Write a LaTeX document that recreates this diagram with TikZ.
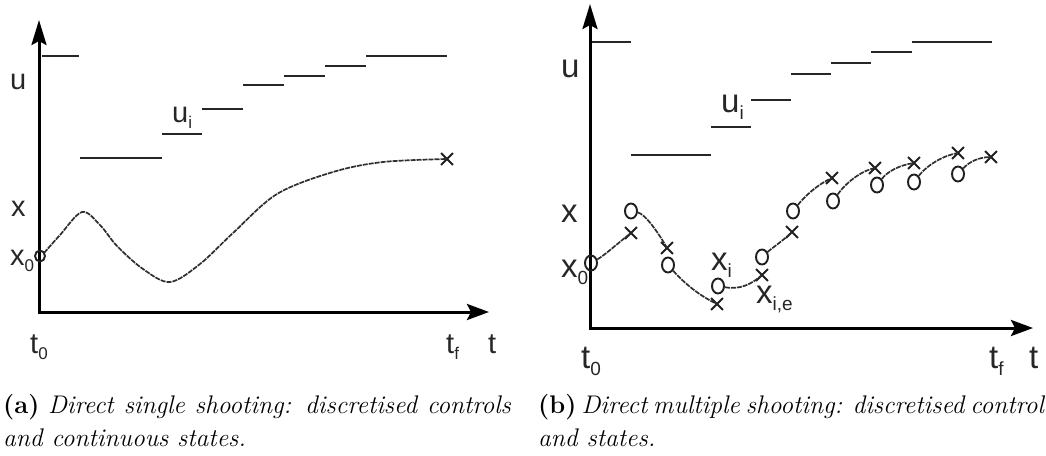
\documentclass[tikz,border=0pt]{standalone}
\usepackage{fontspec}
\usetikzlibrary{arrows.meta,shapes.misc,shapes.geometric}
\newfontfamily\lsans{Liberation Sans}
\newcommand\lblL{\lsans\fontsize{29}{29}\selectfont}
\newcommand\lblR{\lsans\fontsize{33}{33}\selectfont}
\newcommand\sbL[1]{\raisebox{-0.45ex}{\fontsize{17}{17}\selectfont #1}}
\newcommand\sbR[1]{\raisebox{-0.45ex}{\fontsize{19}{19}\selectfont #1}}
\begin{document}
\begin{tikzpicture}[x=1pt,y=-1pt,
  axis/.style={line width=3pt,{Stealth[length=25pt,width=15pt,inset=4pt]}-{Stealth[length=22pt,width=16pt,inset=4pt]}},
  ctrl/.style={line width=2.4pt,draw=black!85},
  state/.style={line width=1.7pt,draw=black!82,dash pattern=on 5pt off 1pt},
  circ/.style={draw=black!88,ellipse,line width=1.9pt,minimum width=12pt,minimum height=15pt,inner sep=0pt},
  crs/.style={draw=black!88,cross out,line width=1.8pt,minimum size=10pt,inner sep=0pt},
  lblL/.style={font=\lblL,inner sep=0pt,anchor=base west,text=black!85},
  lblR/.style={font=\lblR,inner sep=0pt,anchor=base west,text=black!85},
  captext/.style={font=\fontsize{25.5}{33}\selectfont,inner sep=0pt,anchor=north west,align=left}]
\useasboundingbox (0,0) rectangle (1046,455);

% ================= (a) =================
\coordinate (Y1) at (39,20);
\coordinate (O1) at (39,312);
\coordinate (X1) at (489,312);
\draw[axis] (Y1) -- (O1) -- (X1);

\draw[ctrl] (42,56) -- (79,56);
\draw[ctrl] (80,158) -- (162,158);
\draw[ctrl] (162,134) -- (202,134);
\draw[ctrl] (202,109) -- (243,109);
\draw[ctrl] (243,85) -- (284,85);
\draw[ctrl] (284,76) -- (325,76);
\draw[ctrl] (325,66) -- (366,66);
\draw[ctrl] (366,56) -- (447,56);

\node[circ,minimum width=10pt,minimum height=11pt] (a0) at (40,256) {};
\node[crs] (aend) at (447,159) {};
\draw[state] plot[smooth,tension=0.55] coordinates {(44,253) (60,235) (82,212) (100,225) (117,246) (143,269) (170,282) (200,264) (233,233) (277,194) (333,172) (383,162) (447,159)};

\node[lblL] (lu) at (10,89) {u};
\node[lblL] (lx) at (11,216) {x};
\node[lblL] (lx0) at (10,265) {x\sbL{0}};
\node[lblL] (lui) at (172,122) {u\sbL{i}};
\node[lblL] (lt0) at (30,353) {t\sbL{0}};
\node[lblL] (ltf) at (446,353) {t\sbL{f}};
\node[lblL] (lt) at (488,353) {t};

% ================= (b) =================
\coordinate (Y2) at (590,4);
\coordinate (O2) at (590,328);
\coordinate (X2) at (1033,328);
\draw[axis] (Y2) -- (O2) -- (X2);

\draw[ctrl] (592,42) -- (631,42);
\draw[ctrl] (631,155) -- (711,155);
\draw[ctrl] (711,127) -- (751,127);
\draw[ctrl] (751,100) -- (791,100);
\draw[ctrl] (791,74) -- (831,74);
\draw[ctrl] (831,63) -- (871,63);
\draw[ctrl] (871,52) -- (912,52);
\draw[ctrl] (912,42) -- (992,42);

\node[circ] (o0) at (591,263) {};
\node[crs]  (x1) at (631,233) {};
\node[circ] (o1) at (631,211) {};
\node[crs]  (x2) at (667,248) {};
\node[circ] (o2) at (668,265) {};
\node[crs]  (x3) at (717,304) {};
\node[circ] (o3) at (718,286) {};
\node[crs]  (x4) at (762,275) {};
\node[circ] (o4) at (762,257) {};
\node[crs]  (x5) at (792,232) {};
\node[circ] (o5) at (793,211) {};
\node[crs]  (x6) at (832,178) {};
\node[circ] (o6) at (833,201) {};
\node[crs]  (x7) at (875,168) {};
\node[circ] (o7) at (877,185) {};
\node[crs]  (x8) at (914,163) {};
\node[circ] (o8) at (914,182) {};
\node[crs]  (x9) at (958,153) {};
\node[circ] (o9) at (958,174) {};
\node[crs]  (x10) at (991,157) {};

\draw[state] (o0) .. controls (605,255) and (618,243) .. (x1.center);
\draw[state] (o1) .. controls (645,214) and (658,232) .. (x2.center);
\draw[state] (o2) .. controls (685,284) and (700,296) .. (x3.center);
\draw[state] (o3) .. controls (740,290) and (752,284) .. (x4.center);
\draw[state] (o4) .. controls (772,248) and (784,240) .. (x5.center);
\draw[state] (o5) .. controls (805,196) and (818,184) .. (x6.center);
\draw[state] (o6) .. controls (845,184) and (860,171) .. (x7.center);
\draw[state] (o7) .. controls (888,171) and (900,165) .. (x8.center);
\draw[state] (o8) .. controls (928,164) and (945,155) .. (x9.center);
\draw[state] (o9) .. controls (970,161) and (980,157) .. (x10.center);

\node[lblR] (ru) at (561,77) {u};
\node[lblR] (rx) at (561,222) {x};
\node[lblR] (rx0) at (561,277) {x\sbR{0}};
\node[lblR] (rui) at (721,112) {u\sbR{i}};
\node[lblR] (rxi) at (711,270) {x\sbR{i}};
\node[lblR] (rxie) at (756,303) {x\sbR{i,e}};
\node[lblR] (rt0) at (581,368) {t\sbR{0}};
\node[lblR] (rtf) at (989,368) {t\sbR{f}};
\node[lblR] (rt) at (1029,368) {t};

% ================= captions =================
\node[captext] (capa) at (3,394) {\makebox[508pt][s]{\textbf{(a)} \textit{Direct single shooting: discretised controls}}\\\textit{and continuous states.}};
\node[captext] (capb) at (538,394) {\makebox[512pt][s]{\textbf{(b)} \textit{Direct multiple shooting: discretised controls}}\\\textit{and states.}};
\end{tikzpicture}
\end{document}
